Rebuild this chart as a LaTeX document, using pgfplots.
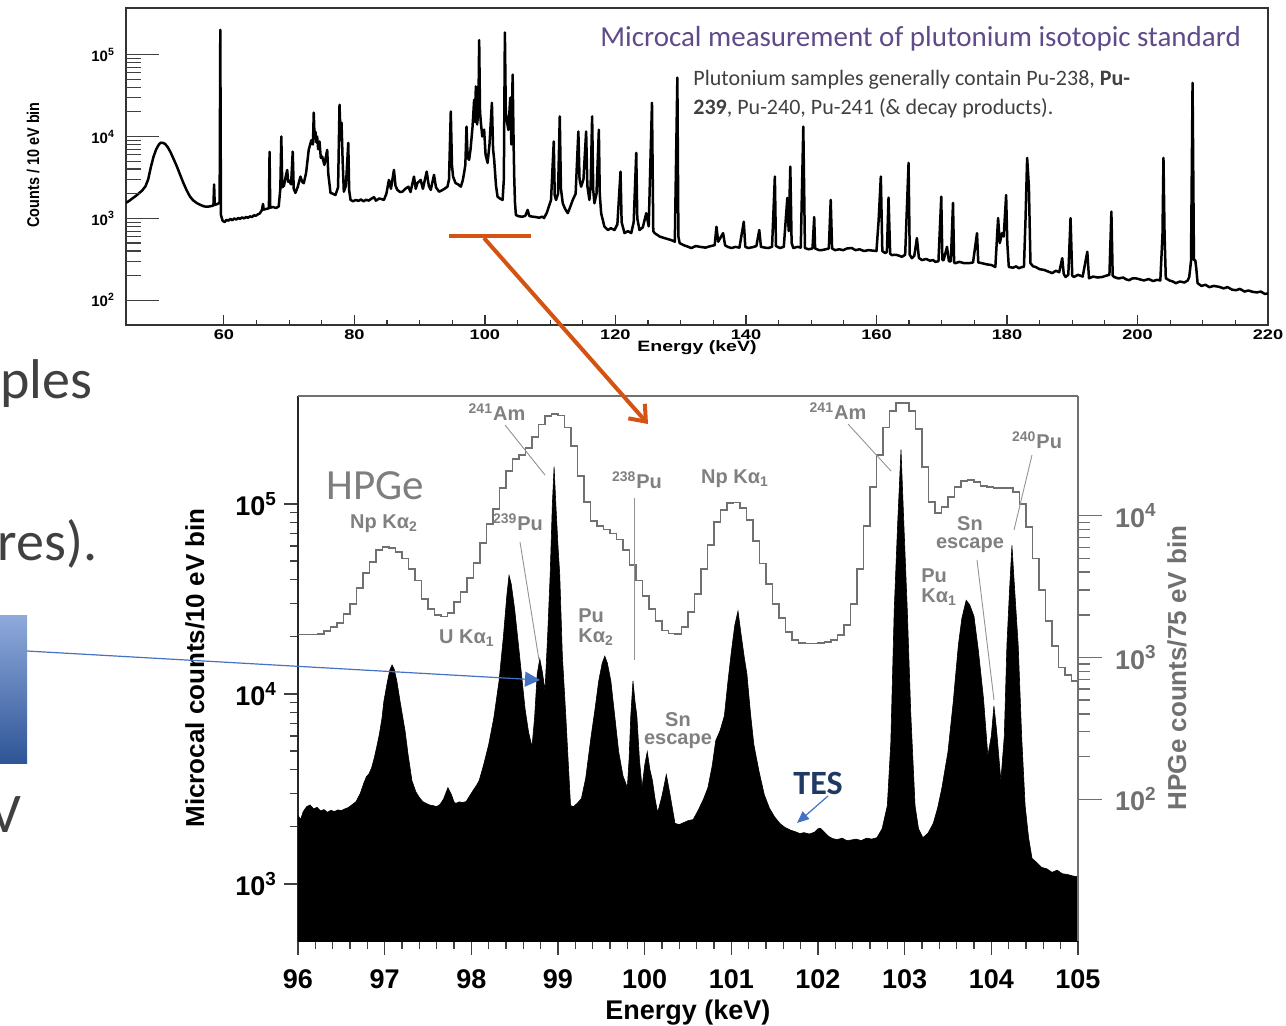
\documentclass[border=0pt]{standalone}
\usepackage{fontspec}
\setmainfont{Liberation Sans}
\newfontfamily\calib{Carlito}
\usepackage{pgfplots}
\pgfplotsset{compat=1.18}
\usetikzlibrary{arrows.meta}

\definecolor{ttlpurple}{RGB}{96,74,138}
\definecolor{slidegray}{RGB}{64,64,64}
\definecolor{anngray}{RGB}{128,128,128}
\definecolor{hpgegray}{RGB}{112,112,112}
\definecolor{arroworange}{RGB}{212,82,18}
\definecolor{tesblue}{RGB}{31,56,100}
\definecolor{arrowblue}{RGB}{68,114,196}
\definecolor{boxtop}{RGB}{143,170,220}
\definecolor{boxbot}{RGB}{47,85,151}

% full spectrum, 45-220 keV (counts / 10 eV bin)
\pgfplotstableread{
45.0 1550
45.5 1640
46.0 1760
46.5 1880
47.0 2030
47.5 2200
48.0 2480
48.4 3000
48.8 4200
49.2 5600
49.6 6900
50.0 7900
50.3 8400
50.7 8350
51.0 8100
51.4 7400
51.8 6500
52.3 5300
52.8 4300
53.3 3400
53.8 2700
54.3 2200
54.8 1850
55.3 1660
55.9 1530
56.5 1450
57.0 1400
57.5 1390
58.0 1410
58.4 1440
58.5 2600
58.6 1460
59.0 1500
59.35 1560
59.45 200000
59.55 1100
59.8 940
60.1 900
60.4 960
60.7 940
61.0 985
61.3 950
61.6 1000
61.9 970
62.2 1010
62.5 990
62.8 1030
63.1 1000
63.4 1040
63.7 1020
64.0 1060
64.3 1040
64.6 1090
64.9 1080
65.2 1120
65.5 1150
65.8 1250
66.0 1500
66.1 1280
66.4 1300
66.9 1330
67.0 6500
67.1 1350
67.5 1380
68.0 1340
68.4 1400
68.65 2300
68.8 10000
68.95 2400
69.2 2500
69.5 3300
69.7 3900
69.85 2800
70.0 2900
70.3 2600
70.55 6550
70.7 2300
70.96 2050
71.3 2400
71.73 3240
72.0 2800
72.24 2690
72.6 3600
73.0 6870
73.4 9000
73.65 8000
73.77 19500
73.9 9500
74.03 11500
74.15 8500
74.29 10000
74.45 7000
74.65 8690
74.85 5500
75.06 5690
75.4 4500
75.83 6870
76.0 3500
76.34 2050
76.7 2000
77.1 1930
77.5 2400
77.72 24400
77.9 9000
78.03 14700
78.2 5000
78.38 2120
78.7 2500
79.06 8370
79.2 2200
79.41 1680
79.8 1620
80.2 1680
80.6 1640
81.0 1700
81.4 1620
81.8 1690
82.2 1650
82.6 1740
83.0 1820
83.3 1650
83.8 1750
84.2 1720
84.52 1680
84.9 2000
85.29 2950
85.6 2300
86.06 3910
86.3 2500
86.58 2230
87.0 2100
87.35 2120
87.8 2300
88.27 2440
88.6 2100
89.13 3240
89.4 2300
89.65 2700
90.16 2950
90.5 2300
91.08 3730
91.4 2500
91.7 2230
92.2 3400
92.5 2400
92.97 2120
93.4 2200
93.8 2300
94.26 2440
94.5 3000
94.77 20200
94.95 4500
95.12 3240
95.5 2700
95.9 2600
96.31 2440
96.6 2900
96.81 3590
97.0 4500
97.18 13200
97.35 5500
97.58 5190
97.8 7000
98.1 13000
98.35 28100
98.5 15000
98.61 40900
98.8 14000
99.0 20000
99.12 150000
99.25 20000
99.38 14700
99.6 10000
99.88 12100
100.1 6000
100.41 4760
100.7 8000
101.07 25800
101.25 7000
101.42 5190
101.7 2500
101.94 1840
102.3 1750
102.71 1680
102.9 3000
103.06 186000
103.2 20000
103.33 16000
103.6 12000
103.88 29800
104.05 8000
104.25 56900
104.4 8000
104.49 3240
104.6 1600
104.75 1100
105.2 1060
105.78 1050
106.2 1080
106.55 1270
106.8 1070
107.32 1050
107.8 1040
108.3 1020
108.8 1050
109.06 1010
109.5 1180
110.13 1680
110.55 8690
110.7 1900
110.9 1680
111.2 2000
111.47 17600
111.65 2300
111.93 1530
112.3 1300
112.7 1160
113.1 1400
113.46 1680
113.9 2000
114.32 11500
114.5 3000
114.74 2440
115.1 3000
115.51 11500
115.7 2500
116.01 1680
116.2 2500
116.43 17600
116.6 2200
116.78 1530
117.1 2000
117.46 12100
117.6 2000
117.81 1160
118.3 800
118.84 721
119.3 760
119.85 721
120.3 850
120.78 3730
120.95 900
121.39 662
121.9 700
122.42 662
122.8 900
123.19 6310
123.35 1000
123.69 721
124.2 780
124.72 1160
125.1 800
125.6 25800
125.8 700
126.0 662
126.8 600
127.53 575
128.0 560
128.56 544
129.1 520
129.49 52300
129.65 600
129.84 500
130.5 470
131.0 455
131.64 435
132.3 460
133.17 447
133.8 440
134.4 455
135.21 472
135.48 791
135.75 520
136.5 662
136.8 470
137.2 450
137.78 435
138.4 450
139.0 440
139.67 912
139.9 450
140.35 435
141.0 445
141.6 460
142.04 721
142.3 450
142.9 440
143.42 435
144.0 450
144.43 3240
144.6 460
145.2 435
145.8 450
146.34 1780
146.55 700
146.8 4290
147.0 500
147.26 435
147.9 450
148.4 440
148.79 13200
149.04 435
149.6 420
150.2 430
150.46 1040
150.6 430
151.2 410
151.61 410
152.2 420
152.7 430
152.99 1680
153.2 430
153.65 410
154.3 420
154.9 410
155.5 430
156.22 435
156.8 410
157.4 420
158.1 400
158.78 410
159.4 405
160.0 400
160.32 912
160.67 3240
160.9 400
161.33 378
161.6 390
161.85 1790
162.1 370
162.36 357
163.0 360
163.5 350
163.89 340
164.4 360
164.92 4760
165.1 360
165.43 327
165.8 350
166.2 575
166.5 330
166.97 310
167.6 320
168.2 305
168.7 310
169.01 295
169.5 300
169.93 1840
170.1 310
170.3 310
170.81 450
171.1 300
171.4 300
171.73 1545
171.9 290
172.08 284
172.7 295
173.4 285
174.14 284
174.8 290
175.41 662
175.6 290
176.18 284
176.9 275
177.6 270
178.22 256
178.64 1010
178.9 500
179.25 662
179.5 600
179.87 1930
180.05 500
180.28 256
180.9 250
181.4 260
181.82 247
182.3 255
182.6 256
182.83 900
183.09 5480
183.36 2440
183.6 284
184.0 260
184.37 256
185.0 240
185.7 235
186.3 225
186.93 215
187.5 230
188.0 220
188.47 327
188.7 210
188.98 193
189.4 205
189.74 1010
190.0 200
190.26 193
190.9 205
191.6 195
192.31 392
192.57 186
193.2 195
193.9 190
194.61 193
195.2 200
195.7 205
196.0 1210
196.2 200
196.41 193
197.1 185
197.8 190
198.3 180
198.72 176
199.2 185
199.73 186
200.4 180
201.0 175
201.7 182
202.4 172
203.0 178
203.5 175
203.83 627
203.98 5480
204.15 627
204.34 186
204.9 175
205.4 170
205.88 162
206.5 170
207.2 165
207.7 175
207.93 193
208.2 300
208.44 45100
208.65 310
208.85 310
209.0 250
209.21 162
209.8 150
210.4 155
211.0 145
211.7 150
212.54 146
213.2 140
213.8 145
214.5 135
215.09 133
215.7 138
216.4 128
217.0 132
217.66 127
218.3 125
218.9 128
219.5 120
220.0 121
}\fullspec

% microcal zoom, 96-105 keV (counts / 10 eV bin)
\pgfplotstableread{
96.00 2290
96.03 2180
96.06 2400
96.10 2550
96.14 2600
96.18 2480
96.22 2530
96.26 2420
96.30 2460
96.34 2380
96.38 2440
96.42 2400
96.46 2450
96.50 2430
96.54 2480
96.58 2520
96.62 2600
96.67 2710
96.72 3000
96.76 3400
96.79 3665
96.82 3800
96.85 4090
96.88 4600
96.91 5300
96.94 6170
96.97 7500
96.99 9080
97.03 11500
97.06 13370
97.085 14200
97.11 13500
97.14 11700
97.18 9000
97.235 6400
97.27 4800
97.315 3490
97.36 3050
97.40 2850
97.44 2710
97.48 2650
97.52 2600
97.56 2580
97.60 2550
97.64 2620
97.68 2800
97.73 3210
97.77 2950
97.80 2700
97.82 2650
97.86 2700
97.90 2680
97.94 2710
97.98 2900
98.02 3100
98.06 3300
98.09 3490
98.14 4200
98.20 5400
98.26 7500
98.32 11700
98.37 20000
98.41 33100
98.435 42100
98.46 38000
98.50 27900
98.55 17000
98.62 8340
98.66 6300
98.70 5270
98.73 7500
98.76 12700
98.79 15300
98.82 13000
98.85 10400
98.88 20000
98.91 42700
98.935 100000
98.955 157000
98.975 100000
99.00 60000
99.02 42700
99.05 16000
99.09 7670
99.12 4200
99.145 2580
99.18 2550
99.22 2650
99.27 2810
99.32 3600
99.38 5880
99.43 8500
99.47 11700
99.51 14500
99.54 15800
99.57 14500
99.61 11700
99.65 8000
99.70 4960
99.75 3700
99.80 3210
99.82 4500
99.84 7670
99.865 11700
99.89 9000
99.91 7670
99.94 4500
99.97 3210
100.00 4200
100.03 4960
100.06 4000
100.09 3490
100.12 2800
100.15 2370
100.20 2900
100.25 3760
100.29 3000
100.35 2080
100.40 2050
100.45 2100
100.50 2150
100.56 2180
100.62 2450
100.68 2800
100.73 3210
100.78 4200
100.82 5670
100.87 6400
100.92 7670
100.96 11500
101.00 16600
101.04 23000
101.077 27300
101.11 21000
101.15 15500
101.18 12700
101.22 8000
101.26 5400
101.32 3900
101.38 2950
101.44 2500
101.50 2250
101.56 2080
101.62 1980
101.68 1920
101.74 1880
101.79 1840
101.84 1860
101.90 1830
101.96 1870
102.00 1950
102.03 1960
102.07 1880
102.12 1780
102.17 1730
102.22 1710
102.28 1740
102.33 1690
102.38 1700
102.44 1720
102.50 1690
102.56 1740
102.62 1720
102.68 1750
102.74 1950
102.80 2580
102.84 5500
102.88 27900
102.92 80000
102.958 193000
102.99 80000
103.03 27900
103.07 8000
103.12 2580
103.16 1950
103.21 1750
103.27 1850
103.33 2080
103.38 2500
103.43 3200
103.50 4960
103.56 9000
103.62 18100
103.66 25000
103.71 31100
103.75 29500
103.80 25600
103.85 17000
103.91 9420
103.96 4730
104.00 6000
104.03 8650
104.06 6500
104.11 3490
104.15 6000
104.18 18100
104.21 35000
104.238 60500
104.27 35000
104.31 18100
104.35 6000
104.39 2580
104.43 1750
104.47 1360
104.52 1300
104.58 1220
104.64 1200
104.70 1150
104.76 1180
104.82 1130
104.88 1120
104.94 1100
105.00 1090
}\tesspec

% HPGe, 75 eV bins (left edges)
\pgfplotstableread{
96.000 1452
96.075 1452
96.150 1455
96.225 1460
96.300 1540
96.375 1640
96.450 1750
96.525 2030
96.600 2380
96.675 3100
96.750 3950
96.825 4750
96.900 5700
96.975 6050
97.050 5960
97.125 5550
97.200 5000
97.275 4200
97.350 3500
97.425 2600
97.500 2200
97.575 2000
97.650 1950
97.725 2050
97.800 2450
97.875 2900
97.950 3660
98.025 4670
98.100 6400
98.175 8800
98.250 11200
98.325 15700
98.400 20700
98.475 25000
98.550 27000
98.625 30000
98.700 36000
98.775 44000
98.850 50600
98.925 52300
99.000 51000
99.075 42000
99.150 31000
99.225 19000
99.300 12500
99.375 9200
99.450 8500
99.525 8000
99.600 7500
99.675 6800
99.750 5700
99.825 4500
99.900 3500
99.975 2700
100.050 2200
100.125 1800
100.200 1550
100.275 1480
100.350 1470
100.425 1650
100.500 2100
100.575 2800
100.650 4200
100.725 6200
100.800 9000
100.875 11000
100.950 12300
101.025 12400
101.100 11400
101.175 9300
101.250 6600
101.325 4600
101.400 3300
101.475 2400
101.550 1900
101.625 1520
101.700 1330
101.775 1270
101.850 1255
101.925 1255
102.000 1270
102.075 1280
102.150 1330
102.225 1450
102.300 1700
102.375 2400
102.450 4200
102.525 8500
102.600 16000
102.675 27000
102.750 42000
102.825 55000
102.900 62500
102.975 62500
103.050 55000
103.125 41000
103.200 22000
103.275 12500
103.350 10400
103.425 11500
103.500 13500
103.575 16000
103.650 17500
103.725 18000
103.800 17300
103.875 16200
103.950 16000
104.025 15800
104.100 15800
104.175 15700
104.250 14800
104.325 12100
104.400 8300
104.475 5000
104.550 3000
104.625 1800
104.700 1200
104.775 850
104.850 750
104.925 680
105.000 680
}\hpgespec

\newcommand{\wide}[1]{\scalebox{1.3}[1]{#1}}

\begin{document}
\begin{tikzpicture}
\path[use as bounding box] (0,0) rectangle (643pt,-512.5pt);
\clip (0,0) rectangle (643pt,-512.5pt);

% ---------- top: full spectrum ----------
\begin{axis}[
  at={(63pt,-162.5pt)}, anchor=south west,
  scale only axis, width=571pt, height=158.5pt,
  xmin=45, xmax=220, ymode=log, ymin=50, ymax=3.7e5,
  axis line style={black!80, line width=0.7pt},
  tick align=inside, tick pos=left,
  major tick length=5pt, minor tick length=2.5pt,
  tick style={black!80, line width=0.6pt},
  xtick={60,80,...,220}, minor x tick num=3,
  xticklabels={\wide{60},\wide{80},\wide{100},\wide{120},\wide{140},\wide{160},\wide{180},\wide{200},\wide{220}},
  xticklabel style={font=\bfseries\fontsize{7}{8}\selectfont, yshift=1pt},
  ytick=\empty, yminorticks=false,
  xlabel={\wide{Energy (keV)}},
  xlabel style={font=\bfseries\fontsize{7.5}{8}\selectfont, at={(axis description cs:0.5,-0.073)}, anchor=center},
  ylabel={\scalebox{0.85}[1]{Counts / 10 eV bin}},
  ylabel style={font=\bfseries\fontsize{8.5}{9}\selectfont, at={(axis description cs:-0.0814,0.505)}, anchor=center},
]
\addplot[black, line width=1.25pt, line join=round] table {\fullspec};
\end{axis}
\begin{axis}[
  at={(63pt,-162.5pt)}, anchor=south west,
  scale only axis, width=571pt, height=158.5pt,
  xmin=45, xmax=220, ymode=log, ymin=50, ymax=3.7e5,
  axis line style={draw=none},
  tick align=inside, tick pos=left,
  major tick length=16.5pt, minor tick length=7.5pt,
  tick style={black!75, line width=0.6pt},
  xtick=\empty,
  ytick={1e2,1e3,1e4,1e5},
  yticklabels={10\textsuperscript{2},10\textsuperscript{3},10\textsuperscript{4},10\textsuperscript{5}},
  yticklabel style={font=\bfseries\fontsize{7.5}{8}\selectfont, xshift=-2pt},
]
\end{axis}

% ---------- bottom: 96-105 keV, microcal ----------
\begin{axis}[
  at={(149pt,-470.5pt)}, anchor=south west,
  scale only axis, width=390pt, height=272.5pt,
  xmin=96, xmax=105, ymode=log, ymin=500, ymax=3.7e5,
  axis x line*=bottom, axis y line*=left,
  axis line style={-, black!85, line width=1pt},
  tick align=outside,
  major tick length=7pt, minor tick length=3.8pt,
  tick style={black!75, line width=0.7pt},
  xtick={96,...,105}, minor x tick num=4,
  xticklabels={96,97,98,99,100,101,102,103,104,105},
  xticklabel style={font=\bfseries\fontsize{13.5}{15}\selectfont, yshift=-4pt},
  ytick={1e3,1e4,1e5},
  yticklabels={10\textsuperscript{3},10\textsuperscript{4},10\textsuperscript{5}},
  yticklabel style={font=\bfseries\fontsize{13.5}{15}\selectfont},
  xlabel={Energy (keV)},
  xlabel style={font=\bfseries\fontsize{13.5}{15}\selectfont, at={(axis description cs:0.5,-0.131)}, anchor=center},
  ylabel={Microcal counts/10 eV bin},
  ylabel style={font=\bfseries\fontsize{13}{15}\selectfont, at={(axis description cs:-0.132,0.501)}, anchor=center},
]
\addplot[fill=black, draw=black, line width=0.3pt] table {\tesspec} \closedcycle;
\end{axis}

% ---------- bottom: HPGe, right axis ----------
\begin{axis}[
  at={(149pt,-470.5pt)}, anchor=south west,
  scale only axis, width=390pt, height=272.5pt,
  xmin=96, xmax=105, ymode=log, ymin=10, ymax=7e4,
  axis x line*=top, axis y line*=right,
  axis line style={-, hpgegray, line width=0.8pt},
  tick align=outside,
  major tick length=12pt, minor tick length=6pt,
  tick style={hpgegray, line width=0.7pt},
  xtick=\empty,
  ytick={1e2,1e3,1e4},
  yticklabels={10\textsuperscript{2},10\textsuperscript{3},10\textsuperscript{4}},
  yticklabel style={font=\bfseries\fontsize{13.5}{15}\selectfont, text=hpgegray, xshift=3pt},
  ylabel={HPGe counts/75 eV bin},
  ylabel style={font=\bfseries\fontsize{13}{15}\selectfont, text=hpgegray, at={(axis description cs:1.127,0.501)}, anchor=center, rotate=0},
]
\addplot[const plot, hpgegray, line width=0.9pt] table {\hpgespec};
\end{axis}

% ---------- annotations (pixel coordinates of the 1286x1025 frame) ----------
\begin{scope}[x=0.5pt, y=-0.5pt]
  % leftover slide text
  \node[anchor=base east, inner sep=0, text=slidegray, font=\calib\fontsize{28}{30}\selectfont] at (93,398) {ples};
  \node[anchor=base east, inner sep=0, text=slidegray, font=\calib\fontsize{28}{30}\selectfont] at (98,560) {res).};
  \node[anchor=base east, inner sep=0, text=slidegray, font=\calib\fontsize{28}{30}\selectfont] at (22,832) {V};
  \shade[top color=boxtop, bottom color=boxbot] (-2,615) rectangle (27,763);
  \draw[arrowblue, line width=0.6pt, -{Triangle[length=7.5pt,width=7.5pt]}] (27,651) -- (540,680);

  % slide title and note
  \node[anchor=base west, inner sep=0, text=ttlpurple, font=\calib\fontsize{14.5}{16}\selectfont] at (600,46)
    {Microcal measurement of plutonium isotopic standard};
  \node[anchor=base west, inner sep=0, text=slidegray, font=\calib\fontsize{11}{13}\selectfont] at (693,85)
    {Plutonium samples generally contain Pu-238, \textbf{Pu-}};
  \node[anchor=base west, inner sep=0, text=slidegray, font=\calib\fontsize{11}{13}\selectfont] at (693,114)
    {\textbf{239}, Pu-240, Pu-241 (\& decay products).};

  % zoom marker
  \draw[arroworange, line width=2pt] (449,236) -- (531,236);
  \draw[arroworange, line width=2pt, -{Straight Barb[length=7pt,width=11pt]}] (484,238) -- (648,424);

  % peak labels
  \node[text=hpgegray!90, font=\calib\fontsize{21.5}{24}\selectfont] at (375,486) {HPGe};
  \begin{scope}[every node/.style={text=anngray, font=\bfseries\fontsize{10}{11}\selectfont, inner sep=0}]
    \node at (384,524) {Np Kα\textsubscript{2}};
    \node at (497,412) {\textsuperscript{241}Am};
    \node at (518,522) {\textsuperscript{239}Pu};
    \node at (467,638) {U Kα\textsubscript{1}};
    \node[anchor=west, align=left] at (578,627) {Pu\\[-1pt]Kα\textsubscript{2}};
    \node at (637,480) {\textsuperscript{238}Pu};
    \node at (735,479) {Np Kα\textsubscript{1}};
    \node[align=center] at (678,731) {Sn\\[-2pt]escape};
    \node at (838,411) {\textsuperscript{241}Am};
    \node at (1037,440) {\textsuperscript{240}Pu};
    \node[align=center] at (970,535) {Sn\\[-2pt]escape};
    \node[anchor=west, align=left] at (921,587) {Pu\\[-1pt]Kα\textsubscript{1}};
  \end{scope}
  \begin{scope}[anngray!85, line width=0.45pt]
    \draw (505,425) -- (545,475);
    \draw (520,542) -- (539,660);
    \draw (634,498) -- (634,660);
    \draw (848,424) -- (891,471);
    \draw (1032,455) -- (1014,530);
    \draw (977,560) -- (994,700);
  \end{scope}

  % TES arrow
  \node[text=tesblue, font=\calib\bfseries\fontsize{17}{19}\selectfont] at (818,783) {TES};
  \draw[arrowblue, line width=0.6pt, -{Triangle[length=6pt,width=5pt]}] (828,796) -- (797,823);
\end{scope}
\end{tikzpicture}
\end{document}
